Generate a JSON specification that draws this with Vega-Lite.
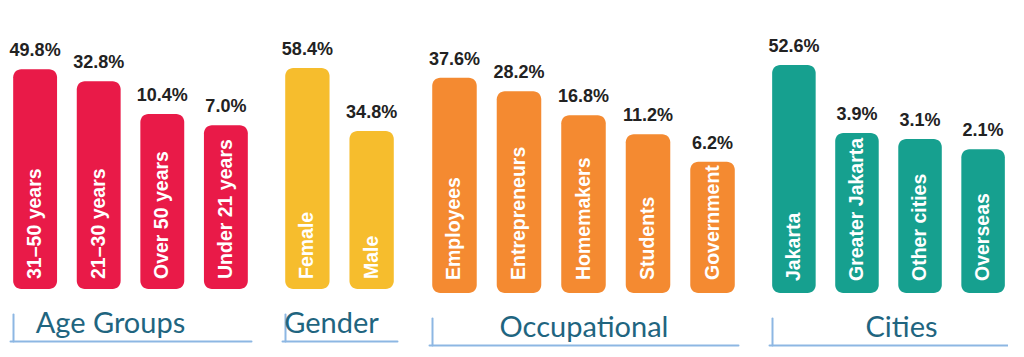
{
  "$schema": "https://vega.github.io/schema/vega-lite/v6.json",
  "background": "white",
  "padding": {"left": 9, "top": 30, "right": 0, "bottom": 4},
  "data": {
    "values": [
      {"group": "Age Groups", "name": "31–50 years", "pct": 0.498},
      {"group": "Age Groups", "name": "21–30 years", "pct": 0.328},
      {"group": "Age Groups", "name": "Over 50 years", "pct": 0.104},
      {"group": "Age Groups", "name": "Under 21 years", "pct": 0.07},
      {"group": "Gender", "name": "Female", "pct": 0.584},
      {"group": "Gender", "name": "Male", "pct": 0.348},
      {"group": "Occupational", "name": "Employees", "pct": 0.376},
      {"group": "Occupational", "name": "Entrepreneurs", "pct": 0.282},
      {"group": "Occupational", "name": "Homemakers", "pct": 0.168},
      {"group": "Occupational", "name": "Students", "pct": 0.112},
      {"group": "Occupational", "name": "Government", "pct": 0.062},
      {"group": "Cities", "name": "Jakarta", "pct": 0.526},
      {"group": "Cities", "name": "Greater Jakarta", "pct": 0.039},
      {"group": "Cities", "name": "Other cities", "pct": 0.031},
      {"group": "Cities", "name": "Overseas", "pct": 0.021}
    ]
  },
  "spacing": 30,
  "resolve": {"scale": {"x": "independent", "y": "independent"}},
  "config": {
    "view": {"stroke": null},
    "axis": {
      "grid": false,
      "labels": false,
      "domainColor": "#8db7e3",
      "domainWidth": 2,
      "domainCap": "round",
      "ticks": true,
      "tickColor": "#8db7e3",
      "tickWidth": 2,
      "tickCap": "round",
      "titleFont": "Lato",
      "titleFontSize": 29,
      "titleFontWeight": "normal",
      "titleColor": "#1f6580",
      "titleBaseline": "alphabetic",
      "titleAlign": "center",
      "titleY": -9
    }
  },
  "hconcat": [
    {
      "width": 241,
      "height": 259,
      "transform": [{"filter": "datum.group === 'Age Groups'"}],
      "encoding": {
        "x": {"field": "name", "type": "nominal", "sort": null,
              "scale": {"paddingInner": 0.31, "paddingOuter": 0.05},
              "axis": {"title": "Age Groups", "titleX": 100, "values": ["31–50 years"], "bandPosition": 0, "tickSize": -27, "offset": 52}},
        "y": {"field": "pct", "type": "quantitative", "stack": null,
              "scale": {"type": "log", "domain": [0.0002258, 1.979], "nice": false}, "axis": null}
      },
      "layer": [
        {"mark": {"type": "bar", "color": "#e91a48", "cornerRadius": 8},
         "encoding": {"y2": {"value": "height"}}},
        {"mark": {"type": "text", "font": "Liberation Sans", "fontWeight": "bold", "fontSize": 18, "color": "#222222", "baseline": "alphabetic", "dy": -13},
         "encoding": {"text": {"field": "pct", "format": ".1%"}}},
        {"mark": {"type": "text", "font": "Liberation Sans", "fontWeight": "bold", "fontSize": 19.5, "color": "white", "angle": 270, "align": "left", "baseline": "middle", "dx": 10},
         "encoding": {"y": {"value": "height"}, "text": {"field": "name"}}}
      ]
    },
    {
      "width": 115,
      "height": 259,
      "transform": [{"filter": "datum.group === 'Gender'"}],
      "encoding": {
        "x": {"field": "name", "type": "nominal", "sort": null,
              "scale": {"paddingInner": 0.31, "paddingOuter": 0.05},
              "axis": {"title": "Gender", "titleX": 49, "values": ["Female"], "bandPosition": 0, "tickSize": -27, "offset": 52}},
        "y": {"field": "pct", "type": "quantitative", "stack": null,
              "scale": {"type": "log", "domain": [0.095, 0.798], "nice": false}, "axis": null}
      },
      "layer": [
        {"mark": {"type": "bar", "color": "#f6bd2d", "cornerRadius": 8},
         "encoding": {"y2": {"value": "height"}}},
        {"mark": {"type": "text", "font": "Liberation Sans", "fontWeight": "bold", "fontSize": 18, "color": "#222222", "baseline": "alphabetic", "dy": -13},
         "encoding": {"text": {"field": "pct", "format": ".1%"}}},
        {"mark": {"type": "text", "font": "Liberation Sans", "fontWeight": "bold", "fontSize": 19.5, "color": "white", "angle": 270, "align": "left", "baseline": "middle", "dx": 10},
         "encoding": {"y": {"value": "height"}, "text": {"field": "name"}}}
      ]
    },
    {
      "width": 309,
      "height": 263,
      "transform": [{"filter": "datum.group === 'Occupational'"}],
      "encoding": {
        "x": {"field": "name", "type": "nominal", "sort": null,
              "scale": {"paddingInner": 0.31, "paddingOuter": 0.05},
              "axis": {"title": "Occupational", "values": ["Employees"], "bandPosition": 0, "tickSize": -27, "offset": 52}},
        "y": {"field": "pct", "type": "quantitative", "stack": null,
              "scale": {"type": "log", "domain": [0.003697, 1.048], "nice": false}, "axis": null}
      },
      "layer": [
        {"mark": {"type": "bar", "color": "#f48a31", "cornerRadius": 8},
         "encoding": {"y2": {"value": "height"}}},
        {"mark": {"type": "text", "font": "Liberation Sans", "fontWeight": "bold", "fontSize": 18, "color": "#222222", "baseline": "alphabetic", "dy": -13},
         "encoding": {"text": {"field": "pct", "format": ".1%"}}},
        {"mark": {"type": "text", "font": "Liberation Sans", "fontWeight": "bold", "fontSize": 19.5, "color": "white", "angle": 270, "align": "left", "baseline": "middle", "dx": 13},
         "encoding": {"y": {"value": "height"}, "text": {"field": "name"}}}
      ]
    },
    {
      "width": 239,
      "height": 263,
      "transform": [{"filter": "datum.group === 'Cities'"}],
      "encoding": {
        "x": {"field": "name", "type": "nominal", "sort": null,
              "scale": {"paddingInner": 0.31, "paddingOuter": 0.05},
              "axis": {"title": "Cities", "titleX": 132, "values": ["Jakarta"], "bandPosition": 0, "tickSize": -27, "offset": 52}},
        "y": {"field": "pct", "type": "quantitative", "stack": null,
              "scale": {"type": "log", "domain": [0.00008577, 2.005], "nice": false}, "axis": null}
      },
      "layer": [
        {"mark": {"type": "bar", "color": "#16a08f", "cornerRadius": 8},
         "encoding": {"y2": {"value": "height"}}},
        {"mark": {"type": "text", "font": "Liberation Sans", "fontWeight": "bold", "fontSize": 18, "color": "#222222", "baseline": "alphabetic", "dy": -13},
         "encoding": {"text": {"field": "pct", "format": ".1%"}}},
        {"mark": {"type": "text", "font": "Liberation Sans", "fontWeight": "bold", "fontSize": 19.5, "color": "white", "angle": 270, "align": "left", "baseline": "middle", "dx": 12},
         "encoding": {"y": {"value": "height"}, "text": {"field": "name"}}}
      ]
    }
  ]
}
